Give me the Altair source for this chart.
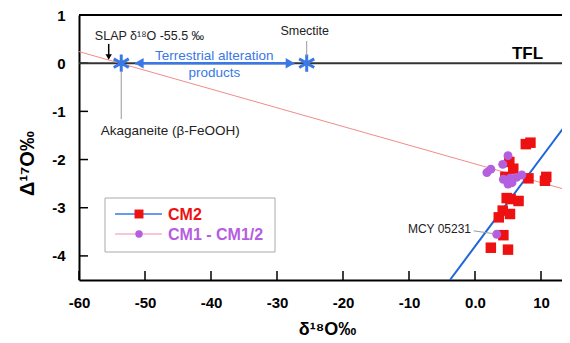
import altair as alt
import pandas as pd

# ---- data ----
cm2_x = [7.7, 8.4, 5.2, 5.8, 4.6, 8.1, 10.8, 10.6, 4.8, 5.4, 6.6, 4.2, 5.3, 3.6, 4.3, 2.4, 5.0]
cm2_y = [-1.68, -1.65, -2.05, -2.19, -2.36, -2.39, -2.36, -2.44, -2.80, -2.82, -2.86, -3.06, -3.13, -3.20, -3.57, -3.83, -3.87]
cm1_x = [5.0, 4.2, 2.4, 1.8, 4.3, 5.0, 5.6, 6.3, 7.1, 5.3, 3.3]
cm1_y = [-1.92, -2.10, -2.20, -2.27, -2.41, -2.51, -2.48, -2.37, -2.32, -2.39, -3.55]
cm2_line_x = [-3.8, 14.4]
cm2_line_y = [-4.5, -1.16]
cm1_line_x = [-60, 14.4]
cm1_line_y = [0.24, -2.65]
terr_x = [-53.6, -25.5]
terr_y = [0, 0]
x_ticks = [-60, -50, -40, -30, -20, -10, 0, 10]
y_ticks = [1, 0, -1, -2, -3, -4]

FONT = "Liberation Sans"
BLUE = "#3a78e6"
LINEBLUE = "#1f66d9"
RED = "#ee1111"
PURPLE = "#b45ee0"
PINK = "#f28b8b"

W, H = 483, 265
XMAX = -60 + W / 6.6

xs = alt.Scale(domain=[-60, XMAX], nice=False, zero=False)
ys = alt.Scale(domain=[-4.5, 1], nice=False, zero=False)

cm2 = pd.DataFrame({"x": cm2_x, "y": cm2_y})
cm1 = pd.DataFrame({"x": cm1_x, "y": cm1_y})

base_axes = alt.Chart(pd.DataFrame({"x": [0], "y": [0]})).mark_point(opacity=0).encode(
    x=alt.X("x:Q", scale=xs, axis=alt.Axis(values=x_ticks, title="δ¹⁸O‰",
            labelExpr="datum.value == 0 ? '0.0' : toString(datum.value)", labelFlush=False,
            labelPadding=15, labelFontSize=15, titleFontSize=18,
            titleX=248, titleY=49, titleBaseline="middle", titleAlign="center")),
    y=alt.Y("y:Q", scale=ys, axis=alt.Axis(values=y_ticks, title="Δ¹⁷O‰",
            labelExpr="toString(datum.value)", labelFlush=False,
            labelPadding=14, labelFontSize=15, titleFontSize=20,
            titleX=-52, titleY=148, titleAngle=270, titleBaseline="middle", titleAlign="center")),
)

# inward ticks
ytick = alt.Chart(pd.DataFrame({"v": y_ticks})).mark_rule(color="black", strokeWidth=1.5).encode(
    y=alt.Y("v:Q", scale=ys), x=alt.value(0), x2=alt.value(9))
xtick = alt.Chart(pd.DataFrame({"v": x_ticks})).mark_rule(color="black", strokeWidth=1.5).encode(
    x=alt.X("v:Q", scale=xs), y=alt.value(H), y2=alt.value(H - 9))
topline = alt.Chart(pd.DataFrame({"v": [1]})).mark_rule(color="black", strokeWidth=2).encode(
    y=alt.Y("v:Q", scale=ys), x=alt.value(0), x2=alt.value(W))
tfl = alt.Chart(pd.DataFrame({"v": [0]})).mark_rule(color="#333333", strokeWidth=2).encode(
    y=alt.Y("v:Q", scale=ys), x=alt.value(0), x2=alt.value(W))

pink_line = alt.Chart(pd.DataFrame({"x": cm1_line_x, "y": cm1_line_y})).mark_line(
    color=PINK, strokeWidth=1, clip=True).encode(x=alt.X("x:Q", scale=xs), y=alt.Y("y:Q", scale=ys))
blue_line = alt.Chart(pd.DataFrame({"x": cm2_line_x, "y": cm2_line_y})).mark_line(
    color=LINEBLUE, strokeWidth=2, clip=True).encode(x=alt.X("x:Q", scale=xs), y=alt.Y("y:Q", scale=ys))

pts2 = alt.Chart(cm2).mark_point(shape="square", filled=True, color=RED, size=110, opacity=1, clip=True).encode(
    x=alt.X("x:Q", scale=xs), y=alt.Y("y:Q", scale=ys))
pts1 = alt.Chart(cm1).mark_point(shape="circle", filled=True, color=PURPLE, size=80, opacity=1, clip=True).encode(
    x=alt.X("x:Q", scale=xs), y=alt.Y("y:Q", scale=ys))

# terrestrial alteration products
ASTER = "M0,-1L0,1M-0.87,-0.5L0.87,0.5M-0.87,0.5L0.87,-0.5"
terr = alt.Chart(pd.DataFrame({"x": terr_x, "y": terr_y})).mark_point(
    shape=ASTER, filled=False, color=BLUE, strokeWidth=3, size=300, opacity=1).encode(
    x=alt.X("x:Q", scale=xs), y=alt.Y("y:Q", scale=ys))
arrow_line = alt.Chart(pd.DataFrame({"x": [-51.5], "x2": [-27.4], "y": [0]})).mark_rule(
    color=BLUE, strokeWidth=2.5).encode(x=alt.X("x:Q", scale=xs), x2="x2:Q", y=alt.Y("y:Q", scale=ys))
arrow_l = alt.Chart(pd.DataFrame({"x": [-50.9], "y": [0]})).mark_point(
    shape="triangle-left", filled=True, color=BLUE, size=110, opacity=1).encode(
    x=alt.X("x:Q", scale=xs), y=alt.Y("y:Q", scale=ys))
arrow_r = alt.Chart(pd.DataFrame({"x": [-28.0], "y": [0]})).mark_point(
    shape="triangle-right", filled=True, color=BLUE, size=110, opacity=1).encode(
    x=alt.X("x:Q", scale=xs), y=alt.Y("y:Q", scale=ys))
terr_text = alt.Chart(pd.DataFrame({"x": [-39.5, -39.5], "y": [0.15, -0.2],
                                    "t": ["Terrestrial alteration", "products"]})).mark_text(
    color=BLUE, fontSize=13.5, font=FONT).encode(
    x=alt.X("x:Q", scale=xs), y=alt.Y("y:Q", scale=ys), text="t:N")

# SLAP
slap_text = alt.Chart(pd.DataFrame({"x": [-57.6], "y": [0.57], "t": ["SLAP δ¹⁸O -55.5 ‰"]})).mark_text(
    align="left", color="#222222", fontSize=12.5, font=FONT).encode(
    x=alt.X("x:Q", scale=xs), y=alt.Y("y:Q", scale=ys), text="t:N")
slap_line = alt.Chart(pd.DataFrame({"x": [-55.5], "y": [0.40], "y2": [0.12]})).mark_rule(
    color="black", strokeWidth=1.5).encode(x=alt.X("x:Q", scale=xs), y=alt.Y("y:Q", scale=ys), y2="y2:Q")
slap_head = alt.Chart(pd.DataFrame({"x": [-55.5], "y": [0.13]})).mark_point(
    shape="triangle-down", filled=True, color="black", size=40, opacity=1).encode(
    x=alt.X("x:Q", scale=xs), y=alt.Y("y:Q", scale=ys))

# leaders and labels
leaders = alt.Chart(pd.DataFrame({"x": [-25.5, -53.6, -0.2], "x2": [-25.5, -53.6, 2.9],
                                  "y": [0.46, -0.17, -3.48], "y2": [0.15, -1.16, -3.54]})).mark_rule(
    color="#999999", strokeWidth=1).encode(
    x=alt.X("x:Q", scale=xs), x2="x2:Q", y=alt.Y("y:Q", scale=ys), y2="y2:Q")
labels_c = alt.Chart(pd.DataFrame({"x": [-25.8], "y": [0.67], "t": ["Smectite"]})).mark_text(
    color="#222222", fontSize=12.5, font=FONT, align="center").encode(
    x=alt.X("x:Q", scale=xs), y=alt.Y("y:Q", scale=ys), text="t:N")
labels_l = alt.Chart(pd.DataFrame({"x": [-56.7], "y": [-1.41], "t": ["Akaganeite (β-FeOOH)"]})).mark_text(
    color="#222222", fontSize=13.5, font=FONT, align="left").encode(
    x=alt.X("x:Q", scale=xs), y=alt.Y("y:Q", scale=ys), text="t:N")
labels_r = alt.Chart(pd.DataFrame({"x": [-0.6], "y": [-3.45], "t": ["MCY 05231"]})).mark_text(
    color="#222222", fontSize=12, font=FONT, align="right").encode(
    x=alt.X("x:Q", scale=xs), y=alt.Y("y:Q", scale=ys), text="t:N")
tfl_text = alt.Chart(pd.DataFrame({"x": [7.95], "y": [0.2], "t": ["TFL"]})).mark_text(
    color="black", fontSize=17, fontWeight="bold", font=FONT).encode(
    x=alt.X("x:Q", scale=xs), y=alt.Y("y:Q", scale=ys), text="t:N")

# manual legend
lg_box = alt.Chart(pd.DataFrame({"a": [0]})).mark_rect(fill="white", stroke="#aaaaaa", strokeWidth=1).encode(
    x=alt.value(26), x2=alt.value(196), y=alt.value(183), y2=alt.value(237))
lg_l1 = alt.Chart(pd.DataFrame({"a": [0]})).mark_rule(color=BLUE, strokeWidth=1.5).encode(
    x=alt.value(36), x2=alt.value(83), y=alt.value(199))
lg_l2 = alt.Chart(pd.DataFrame({"a": [0]})).mark_rule(color="#f4b6c6", strokeWidth=1.5).encode(
    x=alt.value(36), x2=alt.value(83), y=alt.value(219))
lg_p1 = alt.Chart(pd.DataFrame({"a": [0]})).mark_point(shape="square", filled=True, color=RED, size=80, opacity=1).encode(
    x=alt.value(60), y=alt.value(199))
lg_p2 = alt.Chart(pd.DataFrame({"a": [0]})).mark_point(shape="circle", filled=True, color=PURPLE, size=55, opacity=1).encode(
    x=alt.value(60), y=alt.value(219))
lg_t1 = alt.Chart(pd.DataFrame({"t": ["CM2"]})).mark_text(align="left", color=RED, fontSize=16, fontWeight="bold", font=FONT).encode(
    x=alt.value(89), y=alt.value(200), text="t:N")
lg_t2 = alt.Chart(pd.DataFrame({"t": ["CM1 - CM1/2"]})).mark_text(align="left", color=PURPLE, fontSize=16, fontWeight="bold", font=FONT).encode(
    x=alt.value(89), y=alt.value(220), text="t:N")

chart = alt.layer(
    base_axes, ytick, xtick, topline, tfl, pink_line, blue_line,
    pts2, pts1, terr, arrow_line, arrow_l, arrow_r, terr_text,
    slap_text, slap_line, slap_head, leaders, labels_c, labels_l, labels_r, tfl_text,
    lg_box, lg_l1, lg_l2, lg_p1, lg_p2, lg_t1, lg_t2,
).properties(
    width=W, height=H, autosize="none",
    padding={"left": 71, "top": 7, "right": 0, "bottom": 60},
).configure_view(stroke=None).configure_axis(
    grid=False, ticks=False, domainColor="black", domainWidth=2,
    labelFont=FONT, titleFont=FONT, labelFontWeight="bold", titleFontWeight="bold",
    labelColor="black", titleColor="black",
)

chart.save("out.html", embed_options={"renderer": "svg", "actions": False})
